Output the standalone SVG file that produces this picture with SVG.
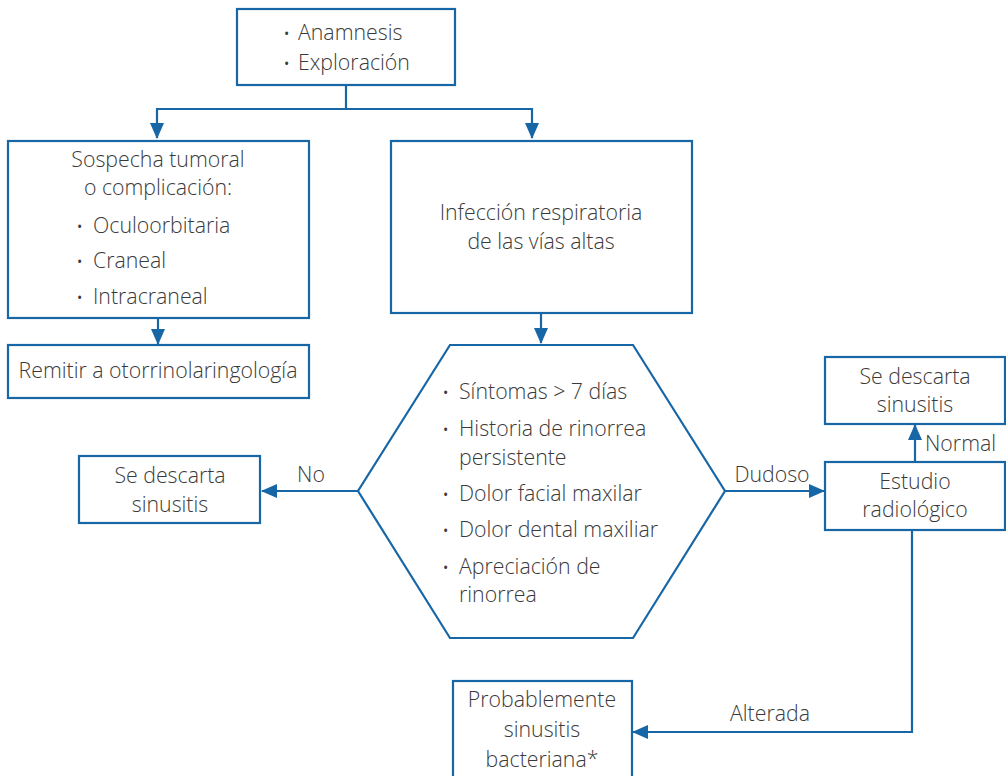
<svg xmlns="http://www.w3.org/2000/svg" width="1006" height="776" viewBox="0 0 1006 776">
<defs>
<style>
.box{fill:#fff;stroke:#1766a6;stroke-width:2.2}
.ln{fill:none;stroke:#1766a6;stroke-width:2.2}
text{font-family:"Open Sans","Noto Sans","Liberation Sans",sans-serif;font-size:21.3px;font-weight:300;fill:#3a3a3a}
.c{text-anchor:middle}
.b{font-size:14px;font-weight:400}
</style>
<marker id="ah" markerUnits="userSpaceOnUse" markerWidth="16" markerHeight="14" refX="15" refY="7" orient="auto">
<path d="M0,0 L16,7 L0,14 Z" fill="#1766a6"/>
</marker>
</defs>
<rect width="1006" height="776" fill="#fff"/>
<g id="connectors">
<polyline class="ln" points="346,85 346,109 157,109 157,138" marker-end="url(#ah)"/>
<polyline class="ln" points="346,109 532,109 532,138" marker-end="url(#ah)"/>
<line class="ln" x1="158" y1="318" x2="158" y2="344" marker-end="url(#ah)"/>
<line class="ln" x1="541" y1="313" x2="541" y2="343" marker-end="url(#ah)"/>
<line class="ln" x1="358" y1="491" x2="262" y2="491" marker-end="url(#ah)"/>
<text x="311" y="482" class="c">No</text>
<line class="ln" x1="725" y1="491" x2="824" y2="491" marker-end="url(#ah)"/>
<text x="772" y="482" class="c">Dudoso</text>
<line class="ln" x1="915" y1="462" x2="915" y2="425" marker-end="url(#ah)"/>
<text x="925" y="451">Normal</text>
<polyline class="ln" points="912,530 912,732 633,732" marker-end="url(#ah)"/>
<text x="770" y="721" class="c">Alterada</text>
</g>
<g id="n-anamnesis">
<rect class="box" x="237" y="9" width="218" height="76"/>
<text x="284" y="39" class="b">•</text><text x="298" y="40">Anamnesis</text>
<text x="284" y="69" class="b">•</text><text x="298" y="70">Exploración</text>
</g>
<g id="n-sospecha">
<rect class="box" x="8" y="141" width="301" height="177"/>
<text x="158" y="167" class="c">Sospecha tumoral</text>
<text x="158" y="195" class="c">o complicación:</text>
<text x="77" y="232" class="b">•</text><text x="93" y="233">Oculoorbitaria</text>
<text x="77" y="267" class="b">•</text><text x="93" y="268">Craneal</text>
<text x="77" y="303" class="b">•</text><text x="93" y="304">Intracraneal</text>
</g>
<g id="n-remitir">
<rect class="box" x="8" y="345" width="301" height="53"/>
<text x="158" y="378" class="c">Remitir a otorrinolaringología</text>
</g>
<g id="n-infeccion">
<rect class="box" x="391" y="141" width="301" height="172"/>
<text x="541" y="220" class="c">Infección respiratoria</text>
<text x="541" y="249" class="c">de las vías altas</text>
</g>
<g id="n-criterios">
<polygon class="box" points="450,345 633,345 725,491 633,638 450,638 358,491"/>
<text x="443" y="398" class="b">•</text><text x="459" y="399">Síntomas &gt; 7 días</text>
<text x="443" y="435" class="b">•</text><text x="459" y="436">Historia de rinorrea</text>
<text x="459" y="465">persistente</text>
<text x="443" y="500" class="b">•</text><text x="459" y="501">Dolor facial maxilar</text>
<text x="443" y="536" class="b">•</text><text x="459" y="537">Dolor dental maxiliar</text>
<text x="443" y="573" class="b">•</text><text x="459" y="574">Apreciación de</text>
<text x="459" y="602">rinorrea</text>
</g>
<g id="n-descarta-izq">
<rect class="box" x="79" y="456" width="181" height="67"/>
<text x="170" y="483" class="c">Se descarta</text>
<text x="170" y="512" class="c">sinusitis</text>
</g>
<g id="n-descarta-der">
<rect class="box" x="825" y="357" width="180" height="67"/>
<text x="915" y="384" class="c">Se descarta</text>
<text x="915" y="412" class="c">sinusitis</text>
</g>
<g id="n-estudio">
<rect class="box" x="825" y="462" width="180" height="68"/>
<text x="915" y="489" class="c">Estudio</text>
<text x="915" y="517" class="c">radiológico</text>
</g>
<g id="n-probable">
<rect class="box" x="453" y="681" width="179" height="100"/>
<text x="542" y="707" class="c">Probablemente</text>
<text x="542" y="737" class="c">sinusitis</text>
<text x="542" y="767" class="c">bacteriana*</text>
</g>
</svg>
